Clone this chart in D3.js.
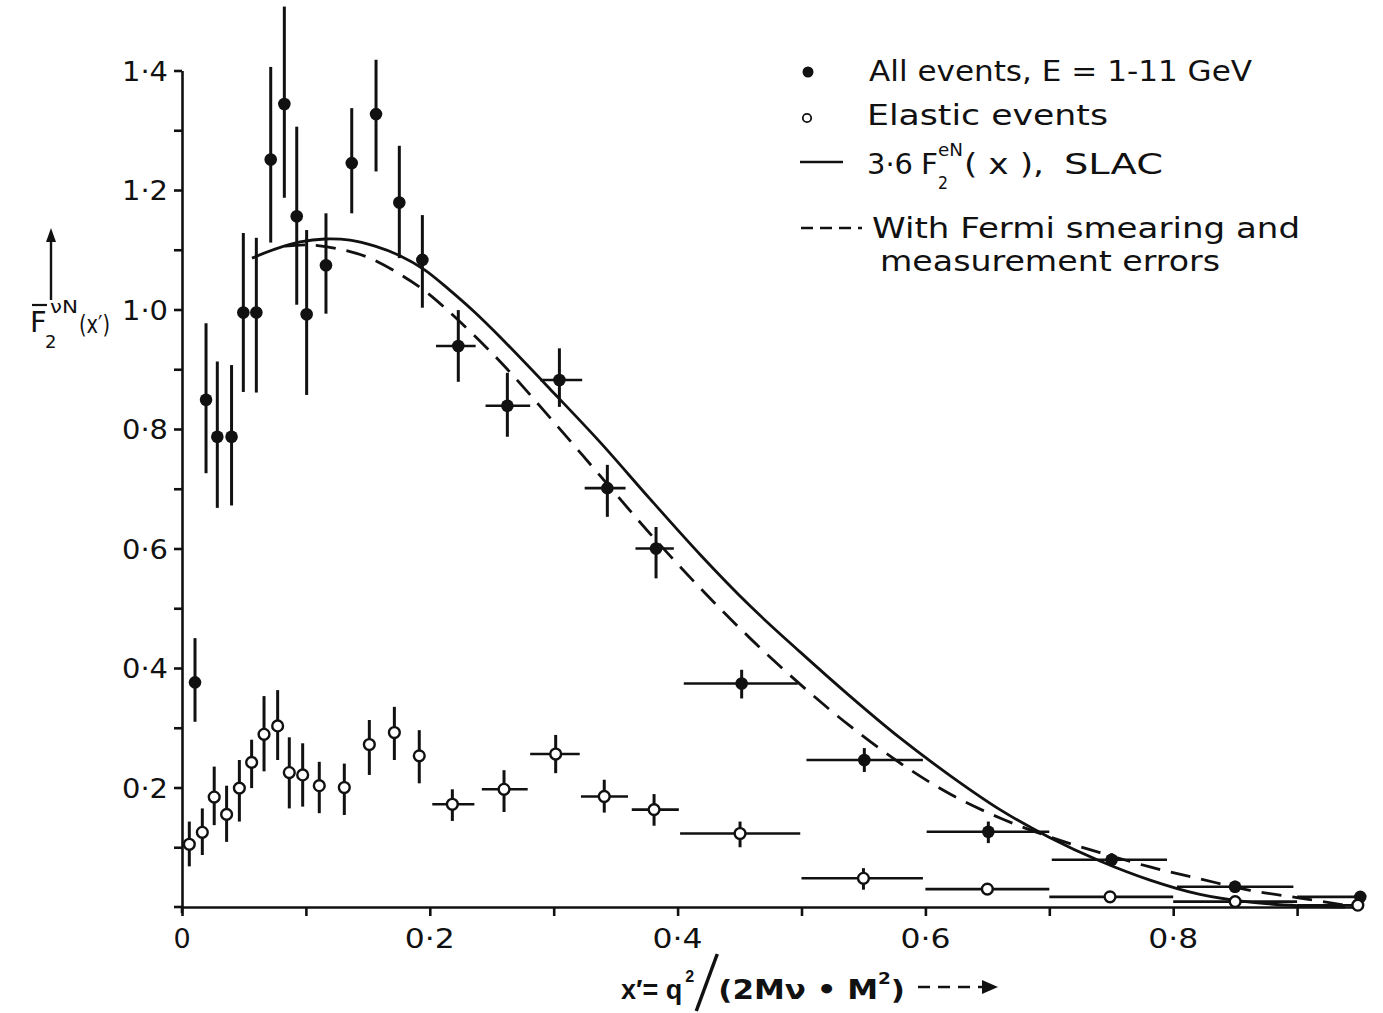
<!DOCTYPE html>
<html><head><meta charset="utf-8">
<script src="https://cdn.jsdelivr.net/npm/d3@7"></script>
<style>
body{margin:0;background:#fff}
svg{display:block}
text{font-family:"DejaVu Sans",sans-serif;fill:#111}
</style>
</head><body>
<svg id="c" width="1383" height="1013"></svg>
<script>
// ---- All events (filled) ----
const allX   = [0.0105,0.0194,0.0285,0.040,0.0495,0.060,0.0716,0.0826,0.0926,0.1006,0.1162,0.137,0.1566,0.1754,0.194,0.223,0.2626,0.3046,0.3433,0.3826,0.4517,0.5507,0.6508,0.7503,0.8499,0.951];
const allY   = [0.376,0.849,0.787,0.787,0.995,0.995,1.251,1.344,1.156,0.992,1.074,1.245,1.327,1.179,1.083,0.939,0.839,0.882,0.701,0.600,0.374,0.246,0.126,0.079,0.034,0.017];
const allTop = [0.450,0.977,0.913,0.907,1.128,1.120,1.406,1.507,1.306,1.133,1.161,1.337,1.418,1.274,1.158,0.999,0.894,0.935,0.740,0.636,0.397,0.266,0.143,0.090,0.044,0.025];
const allBot = [0.310,0.726,0.668,0.672,0.862,0.861,1.112,1.187,1.008,0.857,0.993,1.161,1.231,1.086,1.003,0.879,0.787,0.837,0.653,0.550,0.349,0.226,0.107,0.068,0.024,0.009];
const allXLo = [null,null,null,null,null,null,null,null,null,null,null,null,null,null,null,0.205,0.245,0.289,0.325,0.366,0.405,0.504,0.601,0.702,0.803,0.900];
const allXHi = [null,null,null,null,null,null,null,null,null,null,null,null,null,null,null,0.237,0.281,0.323,0.358,0.397,0.497,0.598,0.700,0.795,0.897,0.952];

// ---- Elastic events (open) ----
const elX   = [0.0059,0.0164,0.026,0.036,0.0463,0.0562,0.0662,0.0772,0.0866,0.0974,0.1108,0.131,0.1512,0.1714,0.1915,0.2182,0.2599,0.3016,0.3408,0.381,0.4504,0.55,0.65,0.749,0.85,0.949];
const elY   = [0.105,0.125,0.184,0.155,0.199,0.242,0.289,0.303,0.225,0.221,0.203,0.200,0.272,0.292,0.253,0.172,0.197,0.256,0.185,0.163,0.123,0.048,0.030,0.017,0.009,0.003];
const elTop = [0.143,0.165,0.235,0.203,0.246,0.280,0.353,0.363,0.284,0.274,0.243,0.240,0.313,0.335,0.296,0.197,0.229,0.288,0.213,0.189,0.143,0.065,null,null,null,null];
const elBot = [0.068,0.087,0.137,0.109,0.143,0.199,0.227,0.246,0.165,0.168,0.157,0.154,0.221,0.246,0.207,0.144,0.159,0.224,0.158,0.136,0.100,0.029,null,null,null,null];
const elXLo = [null,null,null,null,null,null,null,null,null,null,null,null,null,null,null,0.202,0.242,0.281,0.322,0.363,0.402,0.500,0.600,0.700,0.800,0.900];
const elXHi = [null,null,null,null,null,null,null,null,null,null,null,null,null,null,null,0.236,0.279,0.321,0.360,0.401,0.499,0.598,0.700,0.800,0.900,0.950];

// ---- Curves ----
const slacX = [0.0565,0.0751,0.0953,0.1155,0.1356,0.1558,0.1759,0.1961,0.2163,0.2365,0.2567,0.297,0.3374,0.3777,0.4181,0.4584,0.4988,0.5391,0.5795,0.6199,0.6602,0.7006,0.7409,0.7813,0.8216,0.862,0.9023,0.9387];
const slacY = [1.086,1.101,1.113,1.118,1.116,1.106,1.090,1.066,1.032,0.995,0.954,0.867,0.778,0.683,0.590,0.504,0.427,0.353,0.283,0.220,0.163,0.116,0.077,0.045,0.021,0.008,0.002,0.0];
const fermiX = [0.0831,0.1033,0.1275,0.1517,0.1759,0.1961,0.2163,0.2567,0.297,0.3374,0.3777,0.4181,0.4584,0.4988,0.5391,0.5795,0.6199,0.6602,0.7006,0.7409,0.7813,0.8216,0.862,0.9023,0.9387];
const fermiY = [1.106,1.108,1.101,1.086,1.059,1.031,0.995,0.913,0.819,0.722,0.625,0.534,0.450,0.373,0.303,0.241,0.189,0.149,0.117,0.091,0.067,0.047,0.028,0.015,0.003];

// ---- Ticks ----
const yTicks = [0.1,0.2,0.3,0.4,0.5,0.6,0.7,0.8,0.9,1.0,1.1,1.2,1.3,1.4];
const yLabelTicks = [0.2,0.4,0.6,0.8,1.0,1.2,1.4];
const xTicks = [0,0.1,0.2,0.3,0.4,0.5,0.6,0.7,0.8,0.9];
const xLabelTicks = [0,0.2,0.4,0.6,0.8];

const svg = d3.select("#c");
const ink = "#111";
const x = d3.scaleLinear().domain([0,0.948]).range([182,182+1239*0.948]);
const y = d3.scaleLinear().domain([0,1.4]).range([907,70.5]);
const fmt = d => d===0 ? "0" : d3.format(".1f")(d).replace(".","·");

// Axes
const yAxis = d3.axisLeft(y).tickValues(yTicks).tickSize(8).tickSizeOuter(0).tickFormat("");
const gy = svg.append("g").attr("transform",`translate(${x(0)},0)`).call(yAxis);
gy.selectAll("path,line").attr("stroke",ink).attr("stroke-width",2.6);
const xAxis = d3.axisBottom(x).tickValues(xTicks).tickSize(9).tickSizeOuter(0).tickFormat("");
const gx = svg.append("g").attr("transform",`translate(0,${y(0)})`).call(xAxis);
gx.selectAll("path,line").attr("stroke",ink).attr("stroke-width",2.6);
svg.append("line").attr("x1",174).attr("x2",x(0)).attr("y1",y(0)).attr("y2",y(0)).attr("stroke",ink).attr("stroke-width",2.6);
svg.append("line").attr("x1",x(0)).attr("x2",x(0)).attr("y1",y(0)).attr("y2",y(0)+6).attr("stroke",ink).attr("stroke-width",2.6);

svg.append("g").selectAll("text").data(yLabelTicks).join("text")
  .attr("x",168).attr("y",d=>y(d)+10).attr("text-anchor","end")
  .attr("font-size",27).attr("textLength",46).attr("lengthAdjust","spacingAndGlyphs")
  .text(fmt);
svg.append("g").selectAll("text").data(xLabelTicks).join("text")
  .attr("x",d=>x(d)).attr("y",948).attr("text-anchor","middle")
  .attr("font-size",27)
  .each(function(d){ if(d!==0) d3.select(this).attr("textLength",50).attr("lengthAdjust","spacingAndGlyphs"); })
  .text(fmt);

// Curves
const line = d3.line().x(d=>x(d[0])).y(d=>y(d[1])).curve(d3.curveCatmullRom.alpha(0.5));
svg.append("path").attr("d",line(slacX.map((v,i)=>[v,slacY[i]])))
  .attr("fill","none").attr("stroke",ink).attr("stroke-width",2.8);
svg.append("path").attr("d",line(fermiX.map((v,i)=>[v,fermiY[i]])))
  .attr("fill","none").attr("stroke",ink).attr("stroke-width",2.8).attr("stroke-dasharray","20,11");

// Error bars
function bars(X,Y,T,B,XL,XH){
  const g = svg.append("g").attr("stroke",ink).attr("stroke-width",3);
  X.forEach((v,i)=>{
    if(T[i]!==null) g.append("line").attr("x1",x(v)).attr("x2",x(v)).attr("y1",y(T[i])).attr("y2",y(B[i]));
    if(XL[i]!==null) g.append("line").attr("x1",x(XL[i])).attr("x2",x(XH[i])).attr("y1",y(Y[i])).attr("y2",y(Y[i])).attr("stroke-width",2.6);
  });
}
bars(allX,allY,allTop,allBot,allXLo,allXHi);
bars(elX,elY,elTop,elBot,elXLo,elXHi);

svg.append("g").selectAll("circle").data(allX).join("circle")
  .attr("cx",d=>x(d)).attr("cy",(d,i)=>y(allY[i])).attr("r",6.3).attr("fill",ink);
svg.append("g").selectAll("circle").data(elX).join("circle")
  .attr("cx",d=>x(d)).attr("cy",(d,i)=>y(elY[i])).attr("r",5.4)
  .attr("fill","#fff").attr("stroke",ink).attr("stroke-width",2.4);

// Legend
const L = svg.append("g");
L.append("circle").attr("cx",808).attr("cy",72).attr("r",5.5).attr("fill",ink);
L.append("circle").attr("cx",807).attr("cy",118).attr("r",4.2).attr("fill","#fff").attr("stroke",ink).attr("stroke-width",1.8);
L.append("line").attr("x1",800).attr("x2",843).attr("y1",162).attr("y2",162).attr("stroke",ink).attr("stroke-width",2.6);
L.append("line").attr("x1",801).attr("x2",862).attr("y1",228).attr("y2",228).attr("stroke",ink).attr("stroke-width",2.6).attr("stroke-dasharray","12,7");
const lt = (t,xx,yy,len,fs=28)=>L.append("text").attr("x",xx).attr("y",yy).attr("font-size",fs)
  .attr("textLength",len).attr("lengthAdjust","spacingAndGlyphs").text(t);
lt("All events, E = 1-11 GeV",869,81,383);
lt("Elastic events",867,125,241);
lt("3·6",867,174,46);
lt("F",921,174,17);
lt("2",938,189,10,18);
lt("eN",938,156,25,18);
lt("( x ),",964,174,80);
lt("SLAC",1064,174,99);
lt("With Fermi smearing and",872,238,428);
lt("measurement errors",880,271,340);

// Y-axis title
const YT = svg.append("g");
YT.append("line").attr("x1",51).attr("x2",51).attr("y1",300).attr("y2",236).attr("stroke",ink).attr("stroke-width",2.4);
YT.append("path").attr("d","M51,228 L46,242 L56,242 Z").attr("fill",ink);
YT.append("text").attr("x",30).attr("y",332).attr("font-size",29).text("F");
YT.append("line").attr("x1",32).attr("x2",47).attr("y1",305).attr("y2",305).attr("stroke",ink).attr("stroke-width",2.2);
YT.append("text").attr("x",45).attr("y",348).attr("font-size",18).text("2");
YT.append("text").attr("x",50).attr("y",313).attr("font-size",18).attr("textLength",28).attr("lengthAdjust","spacingAndGlyphs").text("νN");
YT.append("text").attr("x",79).attr("y",333).attr("font-size",25).attr("textLength",31).attr("lengthAdjust","spacingAndGlyphs").text("(x′)");

// X-axis title
const XT = svg.append("g").attr("font-weight","bold");
const t1 = XT.append("text").attr("x",621).attr("y",999).attr("font-size",27)
  .style("font-family","'Liberation Sans',sans-serif").text("x′= q");
const w1 = t1.node().getComputedTextLength();
XT.append("text").attr("x",621+w1+3).attr("y",982).attr("font-size",16)
  .style("font-family","'Liberation Sans',sans-serif").text("2");
const sx = 621+w1+14;
XT.append("line").attr("x1",sx).attr("x2",sx+21).attr("y1",1011).attr("y2",954).attr("stroke",ink).attr("stroke-width",3.5);
const t2 = XT.append("text").attr("x",sx+22).attr("y",999).attr("font-size",27)
  .attr("textLength",905-(sx+22)).attr("lengthAdjust","spacingAndGlyphs");
t2.append("tspan").text("(2Mν • M");
t2.append("tspan").attr("dy",-15).attr("font-size",16).text("2");
t2.append("tspan").attr("dy",15).text(")");
XT.append("line").attr("x1",918).attr("x2",986).attr("y1",987).attr("y2",987).attr("stroke",ink).attr("stroke-width",2.6).attr("stroke-dasharray","12,8");
XT.append("path").attr("d","M998,987 L982,980 L982,994 Z").attr("fill",ink);
</script>
</body></html>
